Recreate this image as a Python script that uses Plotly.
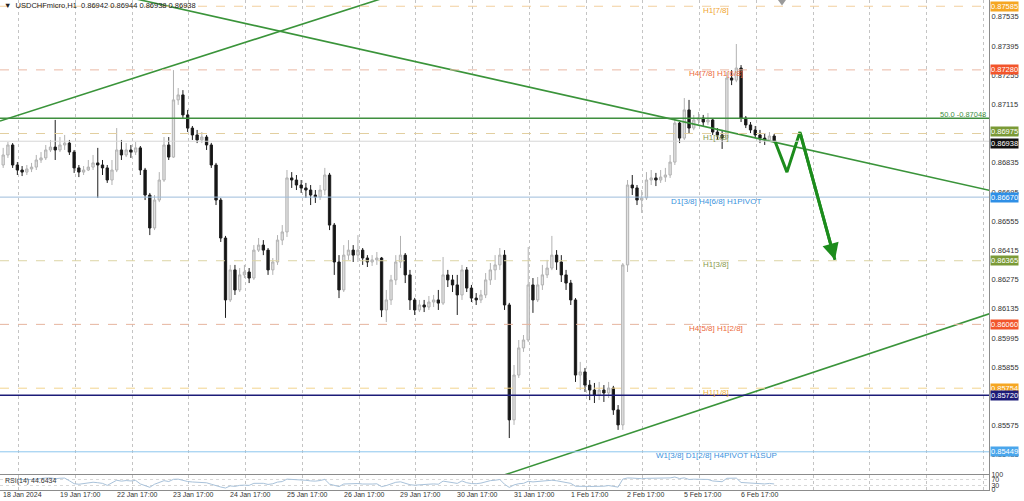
import plotly.graph_objects as go

# ---------------- data ----------------
chart_title = "\u25BC  USDCHFmicro,H1  0.86942 0.86944 0.86938 0.86938"
rsi_title = "RSI(14) 44.6434"

first_open = 0.86824
close = [
    0.86872, 0.86920, 0.86824, 0.86800, 0.86790, 0.86805, 0.86814, 0.86848, 0.86858, 0.86896,
    0.86910, 0.86896, 0.86920, 0.86929, 0.86886, 0.86810, 0.86790, 0.86800, 0.86814, 0.86834,
    0.86824, 0.86810, 0.86752, 0.86800, 0.86896, 0.86872, 0.86896, 0.86886, 0.86906, 0.86800,
    0.86680, 0.86522, 0.86656, 0.86752, 0.86920, 0.86862, 0.87136, 0.87160, 0.87064, 0.87001,
    0.86968, 0.86944, 0.86958, 0.86920, 0.86824, 0.86656, 0.86474, 0.86177, 0.86321, 0.86225,
    0.86297, 0.86311, 0.86282, 0.86416, 0.86440, 0.86416, 0.86321, 0.86359, 0.86464, 0.86503,
    0.86762, 0.86752, 0.86728, 0.86714, 0.86704, 0.86680, 0.86671, 0.86704, 0.86776, 0.86536,
    0.86359, 0.86225, 0.86392, 0.86416, 0.86392, 0.86416, 0.86378, 0.86359, 0.86369, 0.86378,
    0.86129, 0.86177, 0.86273, 0.86359, 0.86392, 0.86297, 0.86177, 0.86129, 0.86153, 0.86143,
    0.86167, 0.86177, 0.86162, 0.86297, 0.86273, 0.86249, 0.86201, 0.86321, 0.86234, 0.86186,
    0.86177, 0.86201, 0.86273, 0.86321, 0.86345, 0.86392, 0.86153, 0.85602, 0.85817, 0.85947,
    0.85985, 0.86249, 0.86177, 0.86249, 0.86297, 0.86330, 0.86392, 0.86359, 0.86297, 0.86258,
    0.86177, 0.85817, 0.85832, 0.85769, 0.85745, 0.85721, 0.85745, 0.85731, 0.85755, 0.85650,
    0.85578, 0.86345, 0.86728, 0.86714, 0.86656, 0.86666, 0.86752, 0.86762, 0.86752, 0.86766,
    0.86776, 0.86838, 0.87025, 0.86953, 0.87088, 0.87001, 0.87040, 0.87049, 0.87030, 0.87040,
    0.86982, 0.86968, 0.86953, 0.87241, 0.87231, 0.87289, 0.87049, 0.87016, 0.86992, 0.86968,
    0.86953, 0.86944, 0.86963, 0.86938,
]
high = [
    0.86906, 0.86934, 0.86929, 0.86838, 0.86819, 0.86824, 0.86834, 0.86872, 0.86886, 0.86920,
    0.86944, 0.87040, 0.86958, 0.86968, 0.86944, 0.86896, 0.86824, 0.86819, 0.86848, 0.86872,
    0.86906, 0.86848, 0.86824, 0.86848, 0.87001, 0.86944, 0.86929, 0.86920, 0.86934, 0.86915,
    0.86810, 0.86690, 0.86680, 0.86790, 0.86958, 0.86958, 0.87279, 0.87193, 0.87183, 0.87088,
    0.87011, 0.86992, 0.86982, 0.86968, 0.86930, 0.86834, 0.86666, 0.86484, 0.86345, 0.86345,
    0.86330, 0.86345, 0.86330, 0.86440, 0.86474, 0.86464, 0.86426, 0.86378, 0.86488, 0.86536,
    0.86800, 0.86790, 0.86776, 0.86752, 0.86738, 0.86728, 0.86704, 0.86728, 0.86810, 0.86786,
    0.86546, 0.86392, 0.86440, 0.86464, 0.86440, 0.86488, 0.86426, 0.86392, 0.86392, 0.86407,
    0.86383, 0.86225, 0.86297, 0.86392, 0.86484, 0.86402, 0.86321, 0.86187, 0.86177, 0.86177,
    0.86196, 0.86201, 0.86225, 0.86383, 0.86321, 0.86297, 0.86297, 0.86345, 0.86335, 0.86249,
    0.86210, 0.86225, 0.86306, 0.86354, 0.86392, 0.86426, 0.86416, 0.86163, 0.85865, 0.85985,
    0.86009, 0.86431, 0.86282, 0.86287, 0.86345, 0.86369, 0.86484, 0.86416, 0.86392, 0.86321,
    0.86273, 0.86186, 0.85880, 0.85851, 0.85793, 0.85779, 0.85784, 0.85769, 0.85784, 0.85765,
    0.85673, 0.86354, 0.86752, 0.86776, 0.86728, 0.86704, 0.86790, 0.86800, 0.86786, 0.86800,
    0.86810, 0.86872, 0.87040, 0.87030, 0.87145, 0.87136, 0.87064, 0.87078, 0.87064, 0.87073,
    0.87049, 0.87001, 0.86992, 0.87270, 0.87279, 0.87404, 0.87303, 0.87059, 0.87030, 0.87011,
    0.86992, 0.86977, 0.86982, 0.86973,
]
low = [
    0.86810, 0.86858, 0.86810, 0.86776, 0.86771, 0.86776, 0.86790, 0.86800, 0.86834, 0.86848,
    0.86886, 0.86848, 0.86886, 0.86896, 0.86872, 0.86786, 0.86766, 0.86776, 0.86795, 0.86800,
    0.86666, 0.86776, 0.86738, 0.86728, 0.86790, 0.86848, 0.86862, 0.86858, 0.86872, 0.86776,
    0.86656, 0.86488, 0.86512, 0.86646, 0.86743, 0.86848, 0.86858, 0.87112, 0.87049, 0.86982,
    0.86944, 0.86929, 0.86929, 0.86896, 0.86810, 0.86632, 0.86455, 0.86091, 0.86167, 0.86201,
    0.86215, 0.86282, 0.86258, 0.86273, 0.86407, 0.86392, 0.86297, 0.86297, 0.86345, 0.86440,
    0.86479, 0.86714, 0.86704, 0.86690, 0.86666, 0.86632, 0.86642, 0.86656, 0.86680, 0.86512,
    0.86297, 0.86186, 0.86215, 0.86369, 0.86359, 0.86359, 0.86345, 0.86335, 0.86340, 0.86345,
    0.86095, 0.86071, 0.86153, 0.86249, 0.86330, 0.86258, 0.86129, 0.86105, 0.86119, 0.86119,
    0.86129, 0.86143, 0.86129, 0.86153, 0.86239, 0.86215, 0.86105, 0.86177, 0.86215, 0.86167,
    0.86153, 0.86162, 0.86186, 0.86249, 0.86273, 0.86321, 0.86129, 0.85515, 0.85578, 0.85803,
    0.85928, 0.85975, 0.86115, 0.86167, 0.86225, 0.86282, 0.86320, 0.86321, 0.86263, 0.86225,
    0.86153, 0.85784, 0.85745, 0.85736, 0.85697, 0.85683, 0.85697, 0.85688, 0.85707, 0.85626,
    0.85554, 0.85554, 0.86311, 0.86680, 0.86632, 0.86594, 0.86656, 0.86728, 0.86723, 0.86738,
    0.86743, 0.86762, 0.86824, 0.86929, 0.86944, 0.86977, 0.86991, 0.87021, 0.87011, 0.87016,
    0.86968, 0.86944, 0.86901, 0.86944, 0.87207, 0.87221, 0.87030, 0.87001, 0.86977, 0.86953,
    0.86929, 0.86920, 0.86934, 0.86929,
]

time_labels = ["18 Jan 2024", "19 Jan 17:00", "22 Jan 17:00", "23 Jan 17:00", "24 Jan 17:00",
               "25 Jan 17:00", "26 Jan 17:00", "29 Jan 17:00", "30 Jan 17:00", "31 Jan 17:00",
               "1 Feb 17:00", "2 Feb 17:00", "5 Feb 17:00", "6 Feb 17:00"]

price_ticks = [0.87535, 0.87395, 0.87255, 0.87115, 0.86975, 0.86835, 0.86695, 0.86555,
               0.86415, 0.86275, 0.86135, 0.85995, 0.85855, 0.85715, 0.85575, 0.85435]

level_prices = [0.87585, 0.87280, 0.87048, 0.86975, 0.86938, 0.86670, 0.86365, 0.86060,
                0.85754, 0.85720, 0.85449]
level_line_colors = ["#f2cf9e", "#eab8a4", "#3f8f3f", "#e2cfa0", "#d6d6d6", "#9dbddc",
                     "#dcd4a4", "#e6b49e", "#f2d48e", "#1c1c78", "#8cc6ee"]
level_dashes = ["dash", "dash", "solid", "dash", "solid", "solid", "dash", "dash", "dash",
                "solid", "solid"]
level_widths = [1, 1, 1.6, 1, 1, 1, 1, 1, 1, 1.6, 1]
level_box_colors = ["#f5a623", "#f2552c", None, "#7a9a36", "#111111", "#2f8fe6", "#7a9a36",
                    "#f2552c", "#f5a623", "#1c1c78", "#4aa6ec"]
level_box_shift = [0, 0, 0, 2, -2, 0, 0, 0, 0, 0, 0]
level_texts = ["H1[7/8]", "H4[7/8] H1[6/8]", None, "H1[5/8]", None, "D1[3/8] H4[6/8] H1PIVOT",
               "H1[3/8]", "H4[5/8] H1[2/8]", "H1[1/8]", None, "W1[3/8] D1[2/8] H4PIVOT H1SUP"]
level_text_colors = ["#f0a530", "#ec6a3c", None, "#8a9a4e", None, "#3a92dc", "#8a9a4e",
                     "#ec6a3c", "#f0b040", None, "#3a92dc"]
fib_label = "50.0 -0.87048"
fib_price = 0.87048

# trend lines drawn on the chart (hour offset, price)
trend_top_h = [-0.85, 170.0]
trend_top_p = [0.87035, 0.87656]
trend_mid_h = [50.0, 420.0]
trend_mid_p = [0.87637, 0.86696]
trend_bot_h = [210.0, 420.0]
trend_bot_p = [0.85329, 0.86120]

# forecast arrows
fc_h = [326.8, 331.9, 337.4]
fc_p = [0.86939, 0.86790, 0.86982]
fc_target_h = 352.2
fc_target_p = 0.86369

# ---------------- derived ----------------
n = len(close)
bar_x = [2 * i + 0.5 for i in range(n)]
open_ = [first_open] + close[:-1]
label_hours = [24 * k for k in range(len(time_labels))]
grid_hours = [7 + 24 * k for k in range(18)]


def rsi(vals, period=7):
    out_x, out_y = [], []
    ag = al = None
    for i in range(1, len(vals)):
        d = vals[i] - vals[i - 1]
        g, l = max(d, 0.0), max(-d, 0.0)
        if ag is None:
            ag, al = g, l
        else:
            ag = (ag * (period - 1) + g) / period
            al = (al * (period - 1) + l) / period
        if i >= 3:
            out_x.append(bar_x[i])
            out_y.append(100.0 if al == 0 else 100 - 100 / (1 + ag / al))
    return out_x, out_y


rsi_x, rsi_y = rsi(close)

FONT = "Liberation Sans, Arial, sans-serif"
X_RANGE = [-0.846, 417.34]
Y_RANGE = [0.853426, 0.87615]

fig = go.Figure()

fig.add_trace(go.Candlestick(
    x=bar_x, open=open_, high=high, low=low, close=close,
    increasing=dict(line=dict(color="#b2b2b2", width=1), fillcolor="#e2e2e2"),
    decreasing=dict(line=dict(color="#1e1e1e", width=1), fillcolor="#141414"),
    whiskerwidth=0, hoverinfo="skip", showlegend=False, xaxis="x", yaxis="y",
))

for hx, py in ((trend_top_h, trend_top_p), (trend_mid_h, trend_mid_p), (trend_bot_h, trend_bot_p)):
    fig.add_trace(go.Scatter(x=hx, y=py, mode="lines", line=dict(color="#3a943a", width=1.6),
                             hoverinfo="skip", showlegend=False, xaxis="x", yaxis="y"))

fig.add_trace(go.Scatter(x=fc_h + [fc_target_h], y=fc_p + [fc_target_p], mode="lines",
                         line=dict(color="#1c8c1c", width=3), hoverinfo="skip",
                         showlegend=False, xaxis="x", yaxis="y"))

fig.add_trace(go.Scatter(x=rsi_x, y=rsi_y, mode="lines", line=dict(color="#a9c2da", width=1),
                         hoverinfo="skip", showlegend=False, xaxis="x2", yaxis="y2"))

shapes = []
for p, c, d, w in zip(level_prices, level_line_colors, level_dashes, level_widths):
    shapes.append(dict(type="line", xref="x domain", yref="y", x0=0, x1=1, y0=p, y1=p,
                       line=dict(color=c, width=w, dash=d), layer="above"))
for lvl in (30, 70):
    shapes.append(dict(type="line", xref="x2 domain", yref="y2", x0=0, x1=1, y0=lvl, y1=lvl,
                       line=dict(color="#d8d8d8", width=1, dash="dot"), layer="below"))
# chart-shift marker at the top
shapes.append(dict(type="path", xref="paper", yref="paper",
                   path="M 0.7866 1 L 0.7947 1 L 0.7907 0.989 Z",
                   fillcolor="#9a9a9a", line=dict(width=0)))

annotations = []
annotations.append(dict(x=fc_target_h, y=fc_target_p, ax=fc_h[-1], ay=fc_p[-1], xref="x", yref="y",
                        axref="x", ayref="y", showarrow=True, arrowhead=2, arrowsize=1.1,
                        arrowwidth=3, arrowcolor="#1c8c1c", text=""))
for p, t, tc in zip(level_prices, level_texts, level_text_colors):
    if t:
        annotations.append(dict(x=0.724, xref="paper", y=p, yref="y", text=t, showarrow=False,
                                xanchor="center", yanchor="middle", yshift=-4,
                                font=dict(family=FONT, size=8, color=tc)))
annotations.append(dict(x=1, xref="paper", y=fib_price, yref="y", text=fib_label, showarrow=False,
                        xanchor="right", yanchor="middle", yshift=4, xshift=-1,
                        font=dict(family=FONT, size=7.5, color="#3f8f3f")))
for p, bc, s in zip(level_prices, level_box_colors, level_box_shift):
    if bc:
        annotations.append(dict(x=1, xref="paper", y=p, yref="y", text=f"{p:.5f}", showarrow=False,
                                xanchor="left", yanchor="middle", xshift=1, yshift=s,
                                bgcolor=bc, borderpad=0,
                                font=dict(family=FONT, size=7.5, color="#ffffff")))
annotations.append(dict(x=0.002, xref="paper", y=1, yref="paper", text=chart_title, showarrow=False,
                        xanchor="left", yanchor="top", yshift=1,
                        font=dict(family=FONT, size=7.5, color="#222222")))
annotations.append(dict(x=0.003, xref="paper", y=(490 - 481) / 490, yref="paper", text=rsi_title,
                        showarrow=False, xanchor="left", yanchor="middle",
                        font=dict(family=FONT, size=7, color="#333333")))
for h, t in zip(label_hours, time_labels):
    annotations.append(dict(x=h, xref="x2", y=0, yref="paper", text=t, showarrow=False,
                            xanchor="left", yanchor="top", yshift=1, xshift=-1,
                            font=dict(family=FONT, size=7, color="#333333")))

axis_common = dict(showline=True, linecolor="#8c8c8c", linewidth=1, mirror=True, zeroline=False)

fig.update_layout(
    width=1024, height=501,
    margin=dict(l=0, r=35, t=0, b=11, autoexpand=False),
    paper_bgcolor="white", plot_bgcolor="white",
    showlegend=False, hovermode=False,
    shapes=shapes, annotations=annotations,
    xaxis=dict(domain=[0, 1], range=X_RANGE, anchor="y", tickvals=grid_hours,
               showticklabels=False, ticks="", showgrid=True, gridcolor="#c4c4c4",
               griddash="dot", gridwidth=1, rangeslider=dict(visible=False), **axis_common),
    yaxis=dict(domain=[16 / 490, 1], range=Y_RANGE, anchor="x", side="right",
               tickvals=price_ticks, ticktext=[f"{v:.5f}" for v in price_ticks], ticks="",
               tickfont=dict(family=FONT, size=7.5, color="#333333"), showgrid=False,
               automargin=False, **axis_common),
    xaxis2=dict(domain=[0, 1], range=X_RANGE, anchor="y2", tickvals=grid_hours,
                showticklabels=False, ticks="", showgrid=True, gridcolor="#c4c4c4",
                griddash="dot", gridwidth=1, **axis_common),
    yaxis2=dict(domain=[0, 15 / 490], range=[0, 100], anchor="x2", side="right",
                tickvals=[0, 30, 70, 100], ticktext=["0", "30", "70", "100"], ticks="",
                tickfont=dict(family=FONT, size=7, color="#333333"), showgrid=False,
                automargin=False, **axis_common),
)

fig.write_html(
    "out.html",
    config={"displayModeBar": False, "staticPlot": True},
    post_script="document.body.style.margin='0';document.body.style.overflow='hidden';",
)
